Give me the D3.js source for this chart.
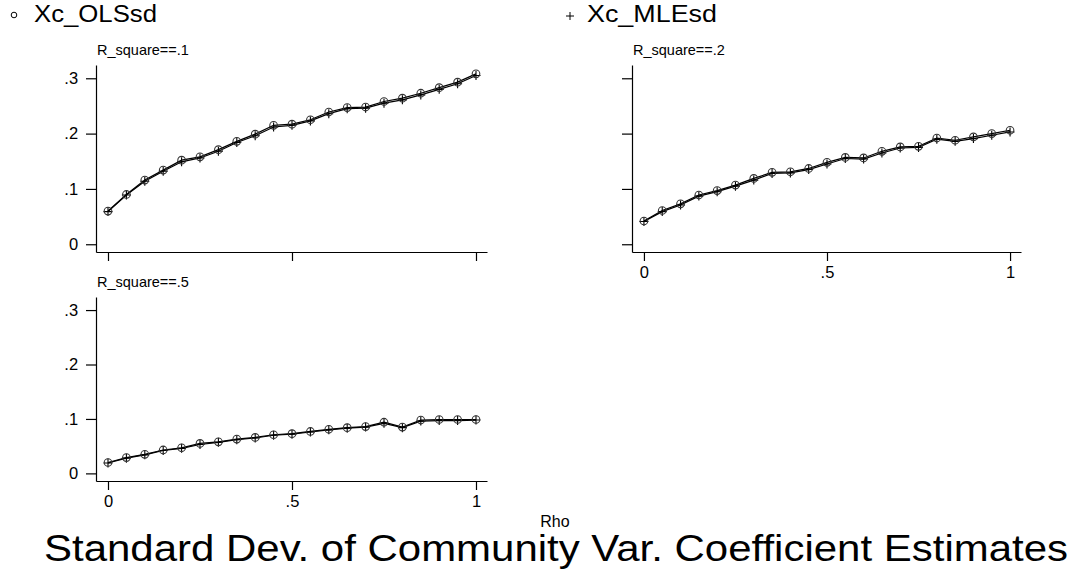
<!DOCTYPE html>
<html>
<head>
<meta charset="utf-8">
<script src="https://cdn.jsdelivr.net/npm/d3@7"></script>
<style>
  html, body { margin: 0; padding: 0; background: #fff; }
  svg { display: block; }
  text { font-family: "Liberation Sans", Arial, Helvetica, sans-serif; fill: #000; }
</style>
</head>
<body>
<svg id="chart" width="1084" height="571"></svg>
<script>
// ---- data ----
const rho = [0, 0.05, 0.1, 0.15, 0.2, 0.25, 0.3, 0.35, 0.4, 0.45, 0.5,
             0.55, 0.6, 0.65, 0.7, 0.75, 0.8, 0.85, 0.9, 0.95, 1.0];
const panelTitles = ["R_square==.1", "R_square==.2", "R_square==.5"];
const seriesNames = ["Xc_OLSsd", "Xc_MLEsd"];

const olsR1 = [0.060, 0.090, 0.116, 0.134, 0.152, 0.158, 0.171, 0.186, 0.199, 0.215, 0.217,
               0.225, 0.239, 0.247, 0.248, 0.258, 0.264, 0.273, 0.283, 0.293, 0.308];
const mleR1 = [0.059, 0.089, 0.114, 0.132, 0.149, 0.156, 0.168, 0.184, 0.196, 0.212, 0.215,
               0.223, 0.236, 0.245, 0.246, 0.255, 0.261, 0.270, 0.280, 0.290, 0.305];
const olsR2 = [0.042, 0.061, 0.073, 0.089, 0.097, 0.107, 0.119, 0.130, 0.131, 0.137, 0.148,
               0.157, 0.156, 0.168, 0.176, 0.177, 0.192, 0.188, 0.194, 0.200, 0.206];
const mleR2 = [0.041, 0.059, 0.071, 0.087, 0.095, 0.105, 0.116, 0.128, 0.129, 0.135, 0.145,
               0.155, 0.154, 0.165, 0.174, 0.175, 0.190, 0.186, 0.191, 0.197, 0.203];
const olsR5 = [0.020, 0.029, 0.035, 0.043, 0.047, 0.055, 0.058, 0.063, 0.066, 0.071, 0.073,
               0.077, 0.081, 0.084, 0.086, 0.094, 0.085, 0.098, 0.099, 0.099, 0.099];
const mleR5 = [0.019, 0.028, 0.034, 0.042, 0.046, 0.053, 0.057, 0.062, 0.065, 0.070, 0.072,
               0.076, 0.080, 0.083, 0.085, 0.092, 0.084, 0.096, 0.097, 0.097, 0.098];

const xTicks = [0, 0.5, 1];
const yTicks = [0, 0.1, 0.2, 0.3];
const xLabel = "Rho";
const mainTitle = "Standard Dev. of Community Var. Coefficient Estimates";

// ---- layout ----
const svg = d3.select("#chart");
const fmt = d => d === 0 ? "0" : (d === 1 ? "1" : String(d).replace(/^0/, ""));

const panels = [
  { title: panelTitles[0], ols: olsR1, mle: mleR1, x0: 96,  x1: 487,  y0: 252, y1: 65,  xLabels: false, yLabels: true },
  { title: panelTitles[1], ols: olsR2, mle: mleR2, x0: 632, x1: 1021, y0: 252, y1: 65,  xLabels: true,  yLabels: false },
  { title: panelTitles[2], ols: olsR5, mle: mleR5, x0: 96,  x1: 487,  y0: 481, y1: 297, xLabels: true,  yLabels: true }
];

panels.forEach(p => {
  const x = d3.scaleLinear().domain([-0.0326, 1.0299]).range([p.x0, p.x1]);
  const y = d3.scaleLinear().domain([-0.0140, 0.3240]).range([p.y0, p.y1]);
  const g = svg.append("g");

  g.append("text").attr("x", p.x0 + 1).attr("y", p.y1 - 10)
    .attr("font-size", 14.5).text(p.title);

  const ax = g.append("g").attr("transform", `translate(0,${p.y0})`)
    .call(d3.axisBottom(x).tickValues(xTicks).tickSize(9).tickSizeOuter(0)
      .tickFormat(p.xLabels ? fmt : () => ""));
  const ay = g.append("g").attr("transform", `translate(${p.x0},0)`)
    .call(d3.axisLeft(y).tickValues(yTicks).tickSize(10).tickSizeOuter(0)
      .tickFormat(p.yLabels ? fmt : () => ""));
  [ax, ay].forEach(a => {
    a.selectAll("path.domain").attr("stroke", "#000").attr("stroke-width", 1.2);
    a.selectAll(".tick line").attr("stroke", "#000").attr("stroke-width", 1.2);
    a.selectAll(".tick text").attr("font-size", 16.5)
      .attr("font-family", '"Liberation Sans", Arial, sans-serif').attr("fill", "#000");
  });
  ax.selectAll(".tick text").attr("dy", "0.85em");
  ay.selectAll(".tick text").attr("dx", "-0.3em");

  const line = d3.line().x((d, i) => x(rho[i])).y(d => y(d));

  g.append("path").datum(p.mle).attr("d", line)
    .attr("fill", "none").attr("stroke", "#000").attr("stroke-width", 1.2);
  g.append("path").datum(p.ols).attr("d", line)
    .attr("fill", "none").attr("stroke", "#000").attr("stroke-width", 1.2);

  g.selectAll(".plus").data(p.mle).enter().append("path")
    .attr("d", (d, i) => {
      const cx = x(rho[i]), cy = y(d), s = 4.5;
      return `M${cx - s},${cy}H${cx + s}M${cx},${cy - s}V${cy + s}`;
    })
    .attr("stroke", "#000").attr("stroke-width", 1.1).attr("fill", "none");
  g.selectAll(".circ").data(p.ols).enter().append("circle")
    .attr("cx", (d, i) => x(rho[i])).attr("cy", d => y(d)).attr("r", 3.8)
    .attr("fill", "none").attr("stroke", "#333").attr("stroke-width", 1.1);
});

// ---- legend ----
svg.append("circle").attr("cx", 14).attr("cy", 15).attr("r", 2.8)
  .attr("fill", "none").attr("stroke", "#000").attr("stroke-width", 1);
svg.append("text").attr("x", 34).attr("y", 22).attr("font-size", 23)
  .attr("textLength", 123).attr("lengthAdjust", "spacingAndGlyphs").text(seriesNames[0]);
svg.append("path").attr("d", "M566,16H574M570,12V20")
  .attr("stroke", "#000").attr("stroke-width", 1);
svg.append("text").attr("x", 587).attr("y", 22).attr("font-size", 23)
  .attr("textLength", 130).attr("lengthAdjust", "spacingAndGlyphs").text(seriesNames[1]);

// ---- axis title & main title ----
svg.append("text").attr("x", 555).attr("y", 527).attr("text-anchor", "middle")
  .attr("font-size", 16).text(xLabel);
svg.append("text").attr("x", 44).attr("y", 561)
  .attr("font-size", 36).attr("textLength", 1024).attr("lengthAdjust", "spacingAndGlyphs")
  .text(mainTitle);
</script>
</body>
</html>
